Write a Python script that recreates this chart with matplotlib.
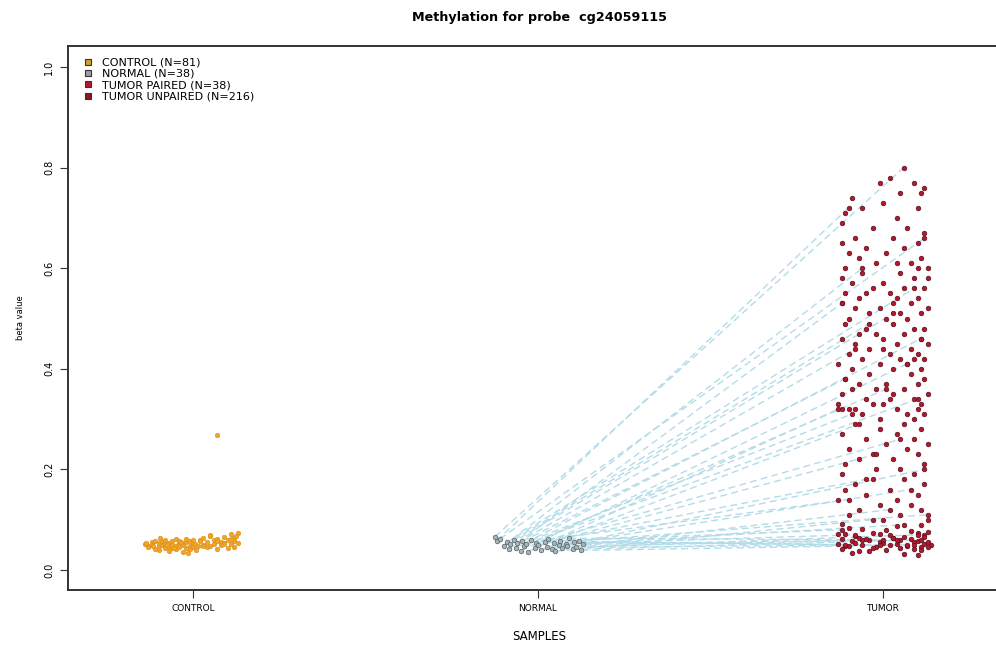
import matplotlib
matplotlib.use("Agg")
import matplotlib.pyplot as plt
from matplotlib.lines import Line2D

# group positions on the x axis
groups = ["CONTROL", "NORMAL", "TUMOR"]
group_pos = [1, 2, 3]

# control samples (N=81): beta values and horizontal jitter
control_y = [
    0.052, 0.048, 0.045, 0.055, 0.050, 0.042, 0.058, 0.047, 0.053, 0.040,
    0.056, 0.049, 0.044, 0.060, 0.051, 0.046, 0.038, 0.054, 0.057, 0.043,
    0.050, 0.062, 0.047, 0.041, 0.053, 0.058, 0.045, 0.036, 0.052, 0.049,
    0.055, 0.044, 0.061, 0.048, 0.042, 0.057, 0.051, 0.046, 0.059, 0.039,
    0.053, 0.047, 0.064, 0.050, 0.043, 0.056, 0.034, 0.052, 0.048, 0.060,
    0.058, 0.050, 0.064, 0.045, 0.055, 0.068, 0.047, 0.060, 0.052, 0.042,
    0.062, 0.056, 0.049, 0.066, 0.053, 0.044, 0.059, 0.071, 0.051, 0.057,
    0.046, 0.063, 0.054, 0.048, 0.069, 0.058, 0.074, 0.052, 0.061, 0.067,
    0.268,
]
control_dx = [
    -0.14, -0.13, -0.13, -0.12, -0.12, -0.11, -0.11, -0.10, -0.10, -0.10,
    -0.09, -0.09, -0.08, -0.08, -0.08, -0.07, -0.07, -0.07, -0.06, -0.06,
    -0.06, -0.05, -0.05, -0.05, -0.04, -0.04, -0.04, -0.03, -0.03, -0.03,
    -0.02, -0.02, -0.02, -0.01, -0.01, -0.01, 0.00, 0.00, 0.00, 0.01,
    -0.135, -0.115, -0.095, -0.075, -0.055, -0.035, -0.015, 0.005, 0.015, 0.02,
    0.02, 0.03, 0.03, 0.04, 0.04, 0.05, 0.05, 0.06, 0.06, 0.07,
    0.07, 0.08, 0.08, 0.09, 0.09, 0.10, 0.10, 0.11, 0.11, 0.12,
    0.12, 0.12, 0.13, 0.03, 0.05, 0.07, 0.13, 0.09, 0.11, 0.125,
    0.07,
]

# normal samples (N=38), paired with the tumor paired samples below
normal_y = [
    0.066, 0.058, 0.062, 0.048, 0.055, 0.041, 0.052, 0.060, 0.044, 0.054,
    0.038, 0.057, 0.047, 0.051, 0.036, 0.059, 0.043, 0.053, 0.049, 0.040,
    0.056, 0.046, 0.061, 0.042, 0.054, 0.037, 0.050, 0.058, 0.044, 0.052,
    0.047, 0.063, 0.041, 0.055, 0.045, 0.057, 0.039, 0.051,
]
normal_dx = [
    -0.125, -0.12, -0.11, -0.10, -0.09, -0.085, -0.08, -0.07, -0.065, -0.06,
    -0.05, -0.045, -0.04, -0.035, -0.03, -0.02, -0.01, -0.005, 0.00, 0.01,
    0.02, 0.025, 0.03, 0.04, 0.045, 0.05, 0.06, 0.065, 0.07, 0.08,
    0.085, 0.09, 0.10, 0.105, 0.11, 0.12, 0.125, 0.13,
]

# tumor paired (N=38)
paired_y = [
    0.80, 0.72, 0.66, 0.60, 0.56, 0.53, 0.51, 0.49, 0.46, 0.44,
    0.41, 0.38, 0.36, 0.34, 0.32, 0.31, 0.29, 0.26, 0.23, 0.20,
    0.18, 0.16, 0.14, 0.12, 0.11, 0.10, 0.09, 0.08, 0.07, 0.07,
    0.06, 0.06, 0.06, 0.05, 0.05, 0.05, 0.05, 0.06,
]
paired_dx = [
    0.06, -0.10, 0.12, -0.06, 0.09, -0.12, 0.03, -0.04, 0.11, -0.08,
    0.07, -0.11, 0.01, 0.10, -0.13, -0.09, -0.07, 0.05, -0.02, 0.12,
    -0.05, 0.08, -0.10, 0.02, 0.13, -0.03, 0.06, -0.12, 0.10, -0.08,
    0.04, -0.06, 0.11, -0.01, 0.07, -0.11, 0.09, 0.00,
]

# tumor unpaired (N=216)
unpaired_y = [
    0.78, 0.77, 0.77, 0.76, 0.75, 0.75, 0.74, 0.73, 0.72, 0.72, 0.71, 0.70,
    0.69, 0.68, 0.68, 0.67, 0.66, 0.66, 0.65, 0.65, 0.64, 0.64,
    0.63, 0.63, 0.62, 0.62, 0.61, 0.61, 0.60, 0.60, 0.60, 0.61,
    0.59, 0.59, 0.58, 0.58, 0.57, 0.57, 0.56, 0.56, 0.56, 0.55,
    0.55, 0.54, 0.54, 0.54, 0.53, 0.53, 0.52, 0.52, 0.52, 0.51,
    0.51, 0.51, 0.50, 0.50, 0.50, 0.58, 0.55, 0.53,
    0.49, 0.49, 0.48, 0.48, 0.48, 0.47, 0.47, 0.46, 0.46, 0.46,
    0.45, 0.45, 0.45, 0.44, 0.44, 0.43, 0.43, 0.43, 0.42, 0.42,
    0.42, 0.41, 0.41, 0.41, 0.40, 0.40, 0.40, 0.47, 0.44, 0.42,
    0.39, 0.39, 0.38, 0.38, 0.37, 0.37, 0.37, 0.36, 0.36, 0.35,
    0.35, 0.35, 0.34, 0.34, 0.33, 0.33, 0.33, 0.32, 0.32, 0.32,
    0.32, 0.31, 0.31, 0.31, 0.30, 0.30, 0.36, 0.34, 0.33, 0.32,
    0.29, 0.29, 0.28, 0.28, 0.27, 0.27, 0.26, 0.26, 0.25, 0.25,
    0.24, 0.24, 0.23, 0.23, 0.22, 0.22, 0.21, 0.21, 0.20, 0.20,
    0.19, 0.19, 0.18, 0.18, 0.17, 0.17, 0.16, 0.16, 0.15, 0.15,
    0.14, 0.14, 0.13, 0.13, 0.12, 0.12, 0.11, 0.11, 0.10, 0.10,
    0.092, 0.088, 0.090, 0.082, 0.078, 0.084, 0.080, 0.076, 0.072, 0.068,
    0.074, 0.070, 0.066, 0.073, 0.069, 0.071, 0.062, 0.058, 0.064, 0.060,
    0.056, 0.063, 0.059, 0.061, 0.057, 0.065, 0.055, 0.062, 0.052, 0.048,
    0.054, 0.050, 0.046, 0.053, 0.049, 0.051, 0.047, 0.055, 0.045, 0.052,
    0.050, 0.048, 0.042, 0.038, 0.044, 0.040, 0.043, 0.041, 0.039, 0.045,
    0.037, 0.034, 0.032, 0.030, 0.063, 0.072,
]
unpaired_dx = [
    0.02, -0.01, 0.09, 0.12, 0.05, 0.11, -0.09, 0.00, -0.06, 0.10, -0.11, 0.04,
    -0.12, 0.07, -0.03, 0.12, -0.08, 0.03, -0.12, 0.10, -0.05, 0.06,
    -0.10, 0.01, 0.11, -0.07, 0.08, -0.02, 0.13, 0.10, -0.11, 0.04,
    -0.06, 0.05, -0.12, 0.09, 0.00, -0.09, 0.12, -0.03, 0.06, -0.11,
    0.02, 0.10, -0.07, 0.04, -0.12, 0.08, -0.01, 0.13, -0.08, 0.05,
    -0.04, 0.11, -0.10, 0.01, 0.07, 0.13, -0.05, 0.03,
    -0.11, 0.03, -0.05, 0.09, 0.12, -0.02, 0.06, -0.12, 0.00, 0.11,
    -0.08, 0.04, 0.13, -0.04, 0.08, -0.10, 0.02, 0.10, -0.06, 0.05,
    0.12, -0.13, -0.01, 0.07, -0.09, 0.03, 0.11, -0.07, 0.00, 0.09,
    -0.04, 0.08, -0.11, 0.12, 0.01, -0.07, 0.10, -0.02, 0.06, -0.12,
    0.03, 0.13, -0.05, 0.09, -0.13, 0.00, 0.11, -0.12, -0.10, -0.08,
    0.04, -0.06, 0.07, 0.12, -0.01, 0.09, -0.09, 0.02, -0.03, 0.10,
    -0.08, 0.06, -0.01, 0.11, -0.12, 0.04, 0.09, -0.05, 0.01, 0.13,
    -0.10, 0.07, -0.03, 0.10, -0.07, 0.03, 0.12, -0.11, 0.05, -0.02,
    -0.12, 0.09, -0.03, 0.06, 0.12, -0.08, 0.02, -0.11, 0.10, -0.05,
    0.04, -0.13, 0.08, -0.01, 0.11, -0.07, 0.05, -0.10, 0.13, 0.00,
    -0.12, 0.04, 0.11, -0.06, 0.08, -0.10, 0.01, 0.13, -0.13, -0.08,
    -0.03, 0.02, 0.06, 0.10, 0.12, -0.11, -0.12, -0.09, -0.07, -0.04,
    -0.01, 0.03, 0.05, 0.08, 0.10, 0.12, 0.13, -0.05, -0.13, -0.10,
    -0.08, -0.06, -0.02, 0.00, 0.02, 0.04, 0.07, 0.09, 0.11, 0.12,
    0.14, -0.11, -0.12, -0.07, -0.03, 0.01, 0.05, 0.09, 0.11, 0.13,
    -0.04, -0.09, 0.06, 0.10, 0.03, -0.01,
]

legend_labels = ["CONTROL (N=81)", "NORMAL (N=38)", "TUMOR PAIRED (N=38)", "TUMOR UNPAIRED (N=216)"]

col_control = "#f2a428"
col_normal = "#a9b4b8"
col_tumor = "#b3182b"
line_col = "#b3dce8"

fig = plt.figure(figsize=(9.96, 6.53), dpi=100)
ax = fig.add_axes([68 / 996, 63 / 653, (1010 - 68) / 996, (607 - 63) / 653])

# paired lines normal -> tumor
for i in range(len(normal_y)):
    ax.plot([group_pos[1] + normal_dx[i], group_pos[2] + paired_dx[i]],
            [normal_y[i], paired_y[i]], color=line_col, lw=1.0,
            ls=(0, (5, 3)), zorder=1)

ax.scatter([group_pos[0] + d for d in control_dx], control_y, s=11,
           c=col_control, edgecolors="#d89020", linewidths=0.4, zorder=2)
ax.scatter([group_pos[1] + d for d in normal_dx], normal_y, s=11,
           c=col_normal, edgecolors="#556066", linewidths=0.5, zorder=2)
ax.scatter([group_pos[2] + d for d in unpaired_dx], unpaired_y, s=11,
           c=col_tumor, edgecolors="#5a1020", linewidths=0.5, zorder=3)
ax.scatter([group_pos[2] + d for d in paired_dx], paired_y, s=11,
           c=col_tumor, edgecolors="#5a1020", linewidths=0.5, zorder=3)

ax.set_xlim(1 - 125 / 345, 3 + 127 / 345)
ax.set_ylim(-20 / 503, 1 + 21 / 503)
ax.set_xticks(group_pos)
ax.set_xticklabels(groups, fontsize=6.5)
ax.set_yticks([0.0, 0.2, 0.4, 0.6, 0.8, 1.0])
ax.set_yticklabels(["0.0", "0.2", "0.4", "0.6", "0.8", "1.0"], fontsize=7,
                   rotation=90, va="center")
ax.tick_params(axis="both", length=6, width=0.8, color="#333333", pad=4)
for sp in ax.spines.values():
    sp.set_linewidth(1.4)
    sp.set_color("#333333")

ax.set_xlabel("SAMPLES", fontsize=8.5, labelpad=12)
ax.set_ylabel("beta value", fontsize=6, labelpad=14)
fig.text(540 / 996, 1 - 17 / 653, "Methylation for probe  cg24059115",
         ha="center", va="center", fontsize=9.2, fontweight="bold")

handles = [
    Line2D([], [], ls="", marker="s", ms=5, mfc="#d0a030", mec="#333333", mew=0.8),
    Line2D([], [], ls="", marker="s", ms=5, mfc="#9aa2a6", mec="#333333", mew=0.8),
    Line2D([], [], ls="", marker="s", ms=5, mfc="#b3182b", mec="#333333", mew=0.8),
    Line2D([], [], ls="", marker="s", ms=5, mfc="#8b1a24", mec="#333333", mew=0.8),
]
ax.legend(handles, legend_labels, loc="upper left", bbox_to_anchor=(0.007, 0.993),
          frameon=False, fontsize=8, handlelength=1.0, handletextpad=0.8,
          labelspacing=0.12, borderaxespad=0.3)

fig.savefig("out.png", dpi=100)
